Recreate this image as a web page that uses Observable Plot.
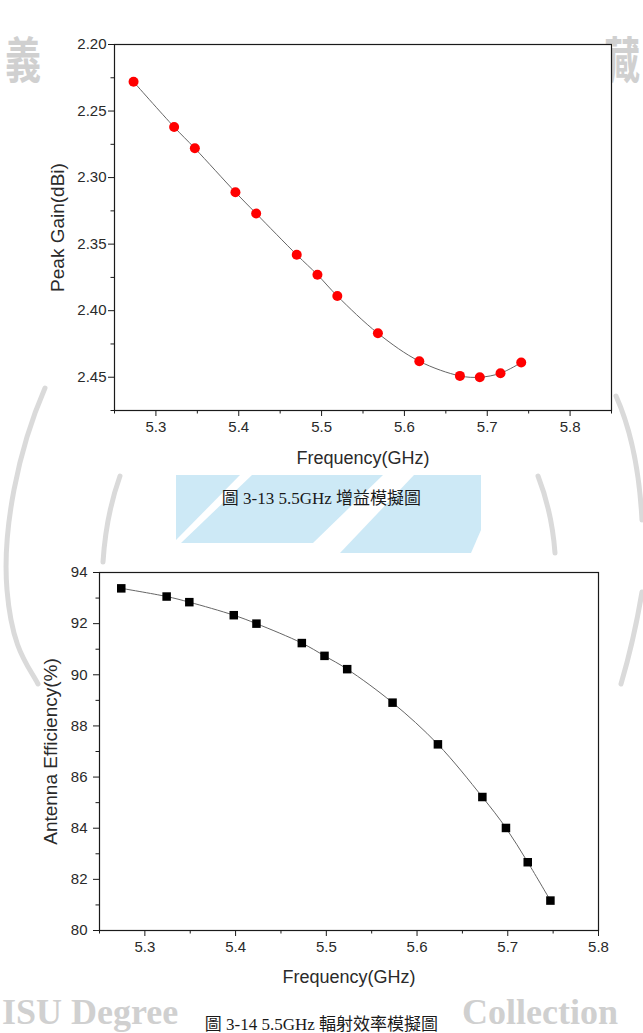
<!DOCTYPE html>
<html>
<head>
<meta charset="utf-8">
<script src="https://cdn.jsdelivr.net/npm/d3@7"></script>
<script src="https://cdn.jsdelivr.net/npm/@observablehq/plot@0.6"></script>
<style>
  body { margin: 0; background: #fff; }
  #page { position: relative; width: 643px; height: 1033px; overflow: hidden; background: #fff; }
  #wm { position: absolute; left: 0; top: 0; }
  .chart { position: absolute; left: 0; }
  .caption {
    position: absolute; left: 0; width: 643px; text-align: center;
    font-family: "Liberation Serif", "Noto Sans CJK TC", serif;
    font-size: 17px; line-height: 22px; color: #1a1a1a;
  }
  .caption span { background: #fff; padding: 0 26px; }
  .caption.plain span { background: transparent; }
</style>
</head>
<body>
<div id="page">
  <!-- faint library seal / collection mark in the page background -->
  <svg id="wm" width="643" height="1033">
    <g fill="none" stroke="#dadada" stroke-width="5" stroke-linecap="round">
      <path d="M45,388 C18,450 2,530 7,590 S28,665 38,684"/>
      <path d="M120,476 Q106,515 103,562"/>
      <path d="M616,396 Q638,445 642,520"/>
      <path d="M642,592 Q634,640 621,684"/>
      <path d="M538,476 Q552,512 555,553"/>
    </g>
    <g fill="#cde9f6">
      <polygon points="176,475 240,475 176,540"/>
      <polygon points="252,475 383,475 313,543 181,543"/>
      <polygon points="414,475 481,475 481,530 471,553 340,553"/>
    </g>
    <g fill="#d0d0d0" font-family="Noto Sans CJK TC, sans-serif" font-weight="bold" font-size="38">
      <text transform="translate(5,78) scale(0.95,1.3)">義</text>
      <text transform="translate(604,78) scale(0.95,1.3)">藏</text>
    </g>
    <g fill="#d0d0d0" font-family="Liberation Serif, serif" font-weight="bold" font-size="36">
      <text x="2" y="1024">ISU Degree</text>
      <text x="462" y="1024">Collection</text>
    </g>
  </svg>
  <div id="gain" class="chart" style="top:0px"></div>
  <div class="caption plain" style="top:488px"><span>圖 3-13 5.5GHz 增益模擬圖</span></div>
  <div id="eff" class="chart" style="top:520px"></div>
  <div class="caption" style="top:1014px"><span>圖 3-14 5.5GHz 輻射效率模擬圖</span></div>
</div>
<script>
// Peak gain versus frequency (Fig. 3-13)
const gainFreq = [5.273, 5.322, 5.347, 5.396, 5.421, 5.470, 5.495, 5.519, 5.568, 5.618, 5.667, 5.691, 5.716, 5.741];
const peakGain = [2.228, 2.262, 2.278, 2.311, 2.327, 2.358, 2.373, 2.389, 2.417, 2.438, 2.449, 2.450, 2.447, 2.439];
const gainXTicks = [5.3, 5.4, 5.5, 5.6, 5.7, 5.8];
const gainXMinor = [5.25, 5.35, 5.45, 5.55, 5.65, 5.75, 5.85];
const gainYTicks = [2.20, 2.25, 2.30, 2.35, 2.40, 2.45];
const gainYMinor = [2.225, 2.275, 2.325, 2.375, 2.425, 2.475];

// Antenna radiation efficiency versus frequency (Fig. 3-14)
const effFreq = [5.274, 5.324, 5.349, 5.398, 5.423, 5.473, 5.498, 5.523, 5.573, 5.623, 5.672, 5.698, 5.722, 5.747];
const efficiency = [93.38, 93.06, 92.84, 92.33, 92.00, 91.24, 90.74, 90.22, 88.91, 87.28, 85.22, 84.01, 82.67, 81.17];
const effXTicks = [5.3, 5.4, 5.5, 5.6, 5.7, 5.8];
const effXMinor = [5.25, 5.35, 5.45, 5.55, 5.65, 5.75];
const effYTicks = [80, 82, 84, 86, 88, 90, 92, 94];
const effYMinor = [81, 83, 85, 87, 89, 91, 93];

const gainData = gainFreq.map((f, i) => ({f, v: peakGain[i]}));
const effData = effFreq.map((f, i) => ({f, v: efficiency[i]}));

const sans = "'Liberation Sans', Arial, sans-serif";
const ink = "#1a1a1a";
const label = "#2a2a2a";
const blank = () => "";

function originAxes({xTicks, xMinor, yTicks, yMinor, xFmt, yFmt, yPad}) {
  return [
    Plot.axisX(xTicks, {tickSize: 6, tickPadding: 5, tickFormat: xFmt, label: null, stroke: ink, fill: label, fontSize: 15}),
    Plot.axisX(xMinor, {tickSize: 3.5, tickFormat: blank, label: null, stroke: ink}),
    Plot.axisY(yTicks, {tickSize: 6, tickPadding: yPad, tickFormat: yFmt, label: null, stroke: ink, fill: label, fontSize: 15}),
    Plot.axisY(yMinor, {tickSize: 3.5, tickFormat: blank, label: null, stroke: ink})
  ];
}

const gainPlot = Plot.plot({
  width: 643, height: 470,
  marginLeft: 114, marginRight: 32, marginTop: 44, marginBottom: 60,
  style: {background: "transparent", fontFamily: sans, overflow: "visible"},
  x: {domain: [5.25, 5.85]},
  y: {domain: [2.20, 2.475], reverse: true},
  marks: [
    Plot.frame({fill: "white", stroke: null}),
    Plot.line(gainData, {x: "f", y: "v", stroke: "#666", strokeWidth: 1, curve: "catmull-rom"}),
    Plot.dot(gainData, {x: "f", y: "v", r: 5, fill: "#ff0000", stroke: null}),
    ...originAxes({xTicks: gainXTicks, xMinor: gainXMinor, yTicks: gainYTicks, yMinor: gainYMinor,
      xFmt: d3.format(".1f"), yFmt: d3.format(".2f"), yPad: 2}),
    Plot.frame({stroke: ink, strokeWidth: 1.2}),
    Plot.text(["Frequency(GHz)"], {frameAnchor: "bottom", dy: 48, lineAnchor: "middle", textAnchor: "middle", fontSize: 18, fill: label}),
    Plot.text(["Peak Gain(dBi)"], {frameAnchor: "left", dx: -57, rotate: -90, textAnchor: "middle", lineAnchor: "middle", fontSize: 19, fill: label})
  ]
});
document.getElementById("gain").append(gainPlot);

const effPlot = Plot.plot({
  width: 643, height: 470,
  marginLeft: 99, marginRight: 45, marginTop: 52, marginBottom: 60,
  style: {background: "transparent", fontFamily: sans, overflow: "visible"},
  x: {domain: [5.25, 5.8]},
  y: {domain: [80, 94]},
  marks: [
    Plot.frame({fill: "white", stroke: null}),
    Plot.line(effData, {x: "f", y: "v", stroke: "#666", strokeWidth: 1, curve: "catmull-rom"}),
    Plot.dot(effData, {x: "f", y: "v", symbol: "square", r: 4.8, fill: "#000", stroke: null}),
    ...originAxes({xTicks: effXTicks, xMinor: effXMinor, yTicks: effYTicks, yMinor: effYMinor,
      xFmt: d3.format(".1f"), yFmt: d3.format("d"), yPad: 6}),
    Plot.frame({stroke: ink, strokeWidth: 1.2}),
    Plot.text(["Frequency(GHz)"], {frameAnchor: "bottom", dy: 47, lineAnchor: "middle", textAnchor: "middle", fontSize: 18, fill: label}),
    Plot.text(["Antenna Efficiency(%)"], {frameAnchor: "left", dx: -49, rotate: -90, textAnchor: "middle", lineAnchor: "middle", fontSize: 19, fill: label})
  ]
});
document.getElementById("eff").append(effPlot);
</script>
</body>
</html>
